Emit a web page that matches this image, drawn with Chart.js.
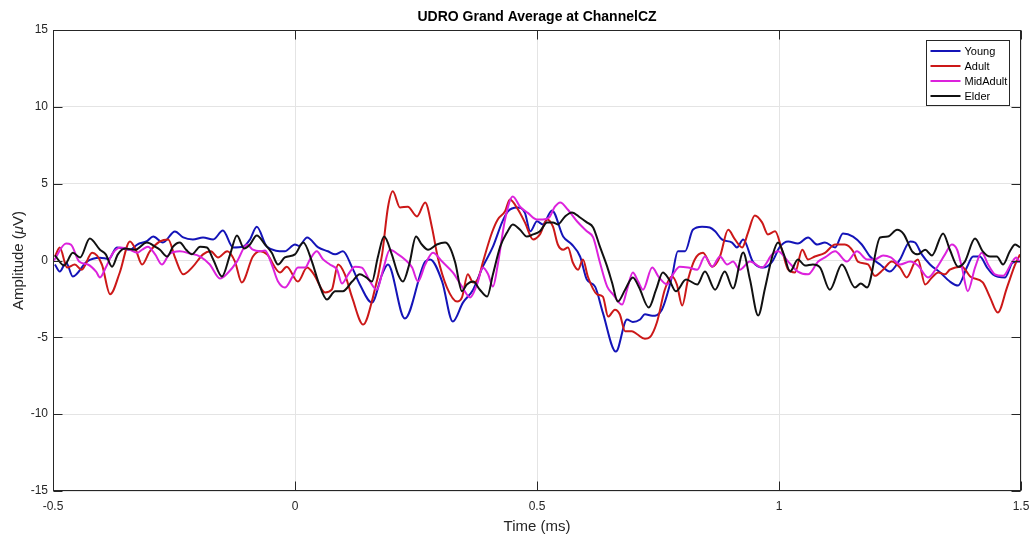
<!DOCTYPE html>
<html>
<head>
<meta charset="utf-8">
<title>UDRO Grand Average at ChannelCZ</title>
<script src="https://cdn.jsdelivr.net/npm/chart.js@4.4.1/dist/chart.umd.min.js"></script>
<style>
  html, body { margin: 0; padding: 0; background: #fff; }
  #wrap { width: 1034px; height: 541px; }
</style>
</head>
<body>
<div id="wrap"><canvas id="erp" width="1034" height="541"></canvas></div>
<script>
// grand average waveforms, [time (ms), amplitude (uV)]
var groups = ['Young', 'Adult', 'MidAdult', 'Elder'];
var lineColors = ['#1414b8', '#cc1818', '#dc22dc', '#111111'];
var timeTicks = [-0.5, 0, 0.5, 1, 1.5];
var ampTicks = [-15, -10, -5, 0, 5, 10, 15];

var young = [
  [-0.496,-0.26],[-0.486,-0.72],[-0.473,-0.13],[-0.459,-1.04],[-0.430,-0.07],[-0.403,0.18],[-0.385,0.1],
  [-0.368,0.85],[-0.341,0.7],[-0.326,1.04],[-0.306,1.26],[-0.293,1.56],[-0.273,1.17],[-0.248,1.89],
  [-0.231,1.5],[-0.211,1.37],[-0.190,1.5],[-0.169,1.37],[-0.149,1.95],[-0.128,0.85],[-0.107,0.9],
  [-0.093,1.37],[-0.079,2.2],[-0.058,0.9],[-0.021,0.6],[0.0,1.04],[0.008,0.95],[0.025,1.5],[0.048,0.85],
  [0.068,0.6],[0.083,0.4],[0.099,0.6],[0.118,-0.45],[0.134,-1.56],[0.159,-2.74],[0.180,-0.9],
  [0.192,-0.26],[0.227,-3.78],[0.269,-0.07],[0.279,0.07],[0.304,-1.37],[0.326,-3.97],[0.347,-2.74],
  [0.368,-1.9],[0.388,-0.4],[0.409,0.9],[0.428,2.5],[0.440,3.2],[0.459,3.45],[0.475,3.1],[0.486,1.9],
  [0.500,2.55],[0.512,2.35],[0.531,3.26],[0.554,1.56],[0.572,1.04],[0.589,0.26],[0.603,-1.24],
  [0.620,-1.7],[0.636,-3.39],[0.663,-5.93],[0.686,-3.84],[0.698,-4.0],[0.713,-3.84],[0.723,-3.5],
  [0.738,-3.6],[0.758,-3.2],[0.779,-1.04],[0.791,0.6],[0.806,0.6],[0.822,2.0],[0.841,2.2],[0.857,2.15],
  [0.868,1.9],[0.882,1.37],[0.903,1.17],[0.913,0.85],[0.926,1.37],[0.946,-0.07],[0.967,-0.46],
  [0.986,-0.07],[1.002,0.9],[1.019,1.24],[1.039,1.1],[1.060,1.5],[1.079,1.04],[1.095,1.17],[1.116,0.85],
  [1.132,1.76],[1.153,1.56],[1.171,1.04],[1.188,0.26],[1.209,-0.26],[1.229,-0.72],[1.250,0.07],
  [1.271,1.24],[1.281,1.17],[1.295,0.4],[1.312,-0.26],[1.333,-0.78],[1.353,-1.37],[1.370,-1.63],
  [1.388,-0.46],[1.401,0.26],[1.415,0.26],[1.430,-0.46],[1.442,-0.9],[1.467,-1.1],[1.483,-0.13],[1.498,-0.07]
];

var adult = [
  [-0.496,0.26],[-0.486,0.85],[-0.471,-0.46],[-0.455,-0.26],[-0.441,-0.6],[-0.419,0.5],[-0.399,-0.26],
  [-0.382,-2.2],[-0.362,-0.78],[-0.341,1.24],[-0.329,0.7],[-0.316,-0.26],[-0.300,0.6],[-0.279,1.24],
  [-0.262,1.37],[-0.248,0.2],[-0.231,-0.9],[-0.211,-0.4],[-0.190,0.4],[-0.174,0.6],[-0.159,0.2],
  [-0.140,0.6],[-0.124,-0.07],[-0.110,-1.43],[-0.087,0.26],[-0.072,0.6],[-0.058,0.4],[-0.031,-0.78],
  [-0.017,-0.4],[0.006,-1.37],[0.025,-0.46],[0.039,-0.9],[0.062,-2.08],[0.076,-1.9],[0.089,-0.26],
  [0.103,-0.9],[0.118,-2.4],[0.141,-4.17],[0.161,-2.4],[0.180,0.4],[0.192,3.45],[0.202,4.5],[0.217,3.45],
  [0.233,3.5],[0.252,2.87],[0.269,3.78],[0.283,2.15],[0.295,0.2],[0.314,-1.76],[0.335,-2.67],[0.345,-2.4],
  [0.357,-0.9],[0.368,-1.43],[0.378,-1.24],[0.388,-0.13],[0.407,1.82],[0.419,2.67],[0.434,3.2],[0.444,3.97],
  [0.461,3.3],[0.475,2.48],[0.492,1.37],[0.506,1.7],[0.521,2.67],[0.533,2.2],[0.543,1.04],[0.554,0.7],
  [0.564,0.85],[0.574,-0.13],[0.585,-0.6],[0.595,0.07],[0.605,-1.04],[0.624,-2.2],[0.636,-2.35],
  [0.647,-3.65],[0.661,-3.2],[0.671,-3.5],[0.682,-4.6],[0.696,-4.6],[0.707,-4.8],[0.723,-5.1],[0.733,-5.0],
  [0.748,-4.0],[0.764,-1.9],[0.779,-1.04],[0.789,-1.56],[0.800,-2.93],[0.812,-1.24],[0.826,0.07],
  [0.843,0.5],[0.862,-0.4],[0.878,0.26],[0.895,2.0],[0.909,1.37],[0.924,0.85],[0.936,1.82],[0.950,2.93],
  [0.965,2.48],[0.977,1.7],[0.992,1.9],[1.006,0.7],[1.019,-0.6],[1.033,-0.78],[1.048,0.7],[1.060,0.07],
  [1.074,0.26],[1.095,0.5],[1.116,1.04],[1.136,1.04],[1.153,0.6],[1.163,-0.07],[1.184,-0.26],[1.198,-1.0],
  [1.215,-0.6],[1.233,-0.07],[1.250,-0.46],[1.264,-1.1],[1.281,-0.07],[1.287,0.07],[1.302,-1.56],
  [1.316,-1.1],[1.329,-0.78],[1.343,-0.9],[1.353,-0.6],[1.378,-0.4],[1.395,-1.04],[1.421,-1.43],
  [1.436,-2.4],[1.452,-3.39],[1.471,-1.76],[1.488,-0.26],[1.498,0.4]
];

var midAdult = [
  [-0.498,0.0],[-0.473,1.1],[-0.463,1.04],[-0.446,-0.07],[-0.428,-0.26],[-0.411,-0.72],[-0.403,-1.1],
  [-0.391,-0.46],[-0.376,0.5],[-0.360,0.85],[-0.341,0.7],[-0.326,0.5],[-0.316,0.7],[-0.304,0.9],
  [-0.289,0.4],[-0.275,-0.26],[-0.260,0.4],[-0.238,0.6],[-0.217,0.46],[-0.196,0.26],[-0.176,-0.26],
  [-0.155,-1.17],[-0.138,-0.78],[-0.120,-0.07],[-0.099,1.04],[-0.087,0.7],[-0.072,0.6],[-0.062,0.65],
  [-0.048,-0.26],[-0.035,-1.37],[-0.021,-1.76],[-0.006,-1.1],[0.006,-0.46],[0.021,-0.46],[0.031,0.07],
  [0.045,0.6],[0.058,0.07],[0.072,-0.26],[0.087,-0.6],[0.097,-1.5],[0.110,-0.9],[0.124,-0.4],[0.138,-0.46],
  [0.155,-1.37],[0.169,-1.9],[0.182,-0.6],[0.196,0.7],[0.213,0.4],[0.227,0.07],[0.242,-0.46],[0.254,-1.37],
  [0.269,-0.26],[0.285,0.5],[0.304,-0.07],[0.326,-0.78],[0.345,-1.7],[0.362,-2.4],[0.376,-1.56],
  [0.388,-0.46],[0.399,-0.9],[0.409,-1.7],[0.419,-0.26],[0.434,2.67],[0.450,4.17],[0.465,3.5],[0.481,3.1],
  [0.500,2.67],[0.512,2.67],[0.525,2.8],[0.537,3.5],[0.548,3.78],[0.564,3.3],[0.583,2.54],[0.603,1.9],
  [0.616,1.5],[0.630,-0.13],[0.645,-1.7],[0.657,-2.2],[0.676,-2.87],[0.686,-1.9],[0.698,-0.78],
  [0.709,-1.37],[0.719,-1.9],[0.738,-0.46],[0.752,-1.1],[0.769,-1.56],[0.781,-0.9],[0.795,-0.4],
  [0.812,-0.46],[0.831,-0.6],[0.847,0.26],[0.862,-0.4],[0.878,0.26],[0.893,-0.26],[0.905,-0.07],
  [0.919,-0.6],[0.940,-0.07],[0.965,-0.46],[0.986,0.4],[0.998,0.6],[1.019,-0.07],[1.039,-0.72],
  [1.060,-0.9],[1.081,-0.07],[1.095,0.2],[1.116,0.6],[1.140,-0.07],[1.161,0.6],[1.182,0.07],[1.198,0.07],
  [1.215,0.33],[1.231,0.2],[1.250,-0.26],[1.271,-0.07],[1.287,-0.33],[1.308,-1.1],[1.326,-0.46],
  [1.343,0.4],[1.357,1.04],[1.368,0.7],[1.378,-0.46],[1.390,-2.0],[1.405,-0.46],[1.419,0.5],[1.432,-0.26],
  [1.446,-0.9],[1.463,-1.0],[1.481,-0.13],[1.490,0.2],[1.498,-0.13]
];

var elder = [
  [-0.496,0.33],[-0.477,-0.33],[-0.459,0.5],[-0.444,0.2],[-0.424,1.43],[-0.403,0.7],[-0.391,0.4],
  [-0.378,-0.4],[-0.366,0.4],[-0.351,0.78],[-0.331,0.7],[-0.306,1.17],[-0.289,0.9],[-0.279,0.7],
  [-0.264,0.26],[-0.252,0.9],[-0.238,1.17],[-0.225,0.7],[-0.213,0.4],[-0.196,0.9],[-0.182,0.85],
  [-0.169,0.07],[-0.151,-1.04],[-0.134,0.4],[-0.120,1.63],[-0.105,0.78],[-0.093,1.04],[-0.079,1.63],
  [-0.062,1.04],[-0.048,0.5],[-0.035,-0.26],[-0.021,0.2],[0.0,0.4],[0.017,1.17],[0.035,-0.07],
  [0.048,-1.37],[0.066,-2.54],[0.083,-2.0],[0.099,-2.0],[0.118,-1.37],[0.134,-0.9],[0.147,-1.1],
  [0.159,-1.37],[0.171,0.2],[0.184,1.56],[0.200,0.4],[0.213,-0.9],[0.223,-1.37],[0.236,-0.26],[0.250,1.56],
  [0.262,1.04],[0.275,0.7],[0.293,1.04],[0.310,1.17],[0.320,0.85],[0.331,-0.13],[0.345,-2.0],[0.355,-1.56],
  [0.368,-1.37],[0.382,-1.9],[0.397,-2.35],[0.409,-0.9],[0.424,0.9],[0.438,1.82],[0.450,2.35],[0.465,2.0],
  [0.479,1.56],[0.492,1.7],[0.506,1.9],[0.521,2.48],[0.533,2.48],[0.543,2.35],[0.558,2.87],[0.572,3.13],
  [0.589,2.8],[0.603,2.48],[0.616,2.15],[0.630,0.9],[0.645,-0.4],[0.655,-1.43],[0.667,-2.67],[0.682,-1.9],
  [0.698,-1.1],[0.711,-1.76],[0.731,-3.06],[0.746,-1.9],[0.760,-0.78],[0.773,-1.24],[0.787,-2.0],
  [0.808,-1.24],[0.831,-1.56],[0.847,-0.72],[0.868,-1.9],[0.888,-0.72],[0.905,-1.82],[0.926,0.52],
  [0.940,-1.24],[0.957,-3.58],[0.971,-1.82],[0.986,0.26],[0.998,1.17],[1.010,0.4],[1.023,-0.72],
  [1.039,0.07],[1.054,-0.33],[1.070,-0.26],[1.085,-0.46],[1.105,-1.9],[1.130,-0.26],[1.157,-1.76],
  [1.169,-1.5],[1.182,-1.76],[1.209,1.5],[1.225,1.56],[1.244,2.0],[1.258,1.7],[1.275,0.6],[1.287,0.4],
  [1.302,0.7],[1.316,0.33],[1.339,1.76],[1.353,0.7],[1.370,-0.4],[1.384,-0.07],[1.405,1.43],[1.421,0.6],
  [1.436,0.26],[1.450,0.26],[1.463,-0.26],[1.477,0.6],[1.488,1.04],[1.498,0.85]
];

var series = [young, adult, midAdult, elder];

var FONT = '"Liberation Sans", Arial, Helvetica, sans-serif';
var AXIS_INK = '#262626';

// MATLAB style box, inward ticks, legend and titles
var axesDecor = {
  id: 'axesDecor',
  afterDatasetsDraw: function(chart) {
    var ctx = chart.ctx, a = chart.chartArea;
    var xs = chart.scales.x, ys = chart.scales.y;
    var L = Math.round(a.left) + 0.5, R = Math.round(a.right) - 0.5;
    var T = Math.round(a.top) + 0.5, B = Math.round(a.bottom) - 0.5;
    ctx.save();
    ctx.strokeStyle = AXIS_INK;
    ctx.lineWidth = 1;
    ctx.strokeRect(L, T, R - L, B - T);
    ctx.beginPath();
    timeTicks.forEach(function(v) {
      var px = Math.round(xs.getPixelForValue(v)) + 0.5;
      ctx.moveTo(px, B); ctx.lineTo(px, B - 9);
      ctx.moveTo(px, T); ctx.lineTo(px, T + 9);
    });
    ampTicks.forEach(function(v) {
      var py = Math.round(ys.getPixelForValue(v)) + 0.5;
      ctx.moveTo(L, py); ctx.lineTo(L + 9, py);
      ctx.moveTo(R, py); ctx.lineTo(R - 9, py);
    });
    ctx.stroke();

    // legend box in the upper right corner
    var bx = 926.5, by = 40.5, bw = 83, bh = 65;
    ctx.fillStyle = '#fff';
    ctx.fillRect(bx, by, bw, bh);
    ctx.strokeStyle = AXIS_INK;
    ctx.strokeRect(bx, by, bw, bh);
    ctx.font = '11px ' + FONT;
    ctx.textBaseline = 'middle';
    ctx.textAlign = 'left';
    chart.data.datasets.forEach(function(ds, i) {
      var ry = by + 10.5 + i * 15;
      ctx.strokeStyle = ds.borderColor;
      ctx.lineWidth = 2;
      ctx.beginPath();
      ctx.moveTo(bx + 4, ry);
      ctx.lineTo(bx + 34, ry);
      ctx.stroke();
      ctx.fillStyle = '#000';
      ctx.fillText(ds.label, bx + 38, ry + 0.5);
    });
    ctx.restore();
  },
  afterDraw: function(chart) {
    var ctx = chart.ctx, a = chart.chartArea;
    var cx = (a.left + a.right) / 2, cy = (a.top + a.bottom) / 2;
    ctx.save();
    ctx.fillStyle = '#000';
    ctx.textAlign = 'center';
    ctx.textBaseline = 'middle';
    ctx.font = 'bold 14px ' + FONT;
    ctx.fillText('UDRO Grand Average at ChannelCZ', cx, 17);

    ctx.fillStyle = AXIS_INK;
    ctx.font = '15px ' + FONT;
    ctx.fillText('Time (ms)', cx, 527);

    // y label with an italic mu
    ctx.translate(19, cy);
    ctx.rotate(-Math.PI / 2);
    var parts = [['Amplitude (', '15px '], ['\u03bc', 'italic 15px '], ['V)', '15px ']];
    var total = 0;
    parts.forEach(function(p) { ctx.font = p[1] + FONT; total += ctx.measureText(p[0]).width; });
    var x = -total / 2;
    ctx.textAlign = 'left';
    parts.forEach(function(p) {
      ctx.font = p[1] + FONT;
      ctx.fillText(p[0], x, 0);
      x += ctx.measureText(p[0]).width;
    });
    ctx.restore();
  }
};

var datasets = groups.map(function(name, i) {
  return {
    label: name,
    data: series[i].map(function(p) { return { x: p[0], y: p[1] }; }),
    borderColor: lineColors[i],
    borderWidth: 2,
    pointRadius: 0,
    fill: false,
    cubicInterpolationMode: 'monotone',
    order: groups.length - i
  };
});

var tickFont = { family: FONT, size: 12 };
var plainLabel = function(v) { return String(v); };

new Chart(document.getElementById('erp'), {
  type: 'line',
  data: { datasets: datasets },
  options: {
    responsive: false,
    animation: false,
    devicePixelRatio: 1,
    layout: { padding: { left: 0, right: 13, top: 30, bottom: 0 } },
    plugins: {
      legend: { display: false },
      tooltip: { enabled: false },
      title: { display: false }
    },
    scales: {
      x: {
        type: 'linear',
        min: -0.5,
        max: 1.5,
        afterBuildTicks: function(s) { s.ticks = timeTicks.map(function(v) { return { value: v }; }); },
        afterFit: function(s) { s.height = 50; s.paddingLeft = 0; s.paddingRight = 0; },
        ticks: { color: AXIS_INK, font: tickFont, padding: 8, maxRotation: 0, callback: plainLabel },
        grid: { color: '#e4e4e4', drawTicks: false },
        border: { display: false }
      },
      y: {
        type: 'linear',
        min: -15,
        max: 15,
        afterBuildTicks: function(s) { s.ticks = ampTicks.map(function(v) { return { value: v }; }); },
        afterFit: function(s) { s.width = 53; s.paddingTop = 0; s.paddingBottom = 0; },
        ticks: { color: AXIS_INK, font: tickFont, padding: 5, callback: plainLabel },
        grid: { color: '#e4e4e4', drawTicks: false },
        border: { display: false }
      }
    }
  },
  plugins: [axesDecor]
});
</script>
</body>
</html>
